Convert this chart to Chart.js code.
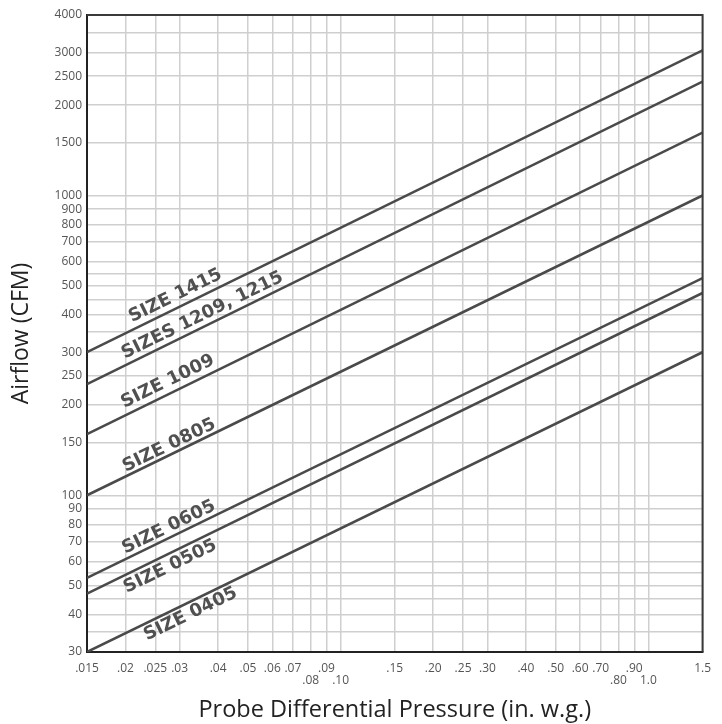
<!DOCTYPE html>
<html>
<head>
<meta charset="utf-8">
<script src="https://cdn.jsdelivr.net/npm/chart.js@4.4.1/dist/chart.umd.min.js"></script>
<style>
  html, body { margin: 0; padding: 0; background: #fff; }
  canvas { display: block; }
</style>
</head>
<body>
<canvas id="airflow-chart" width="722" height="724"></canvas>
<script>
// probe pressure range (in. w.g.) - every size is a straight line on the log/log grid
const pressureRange = [0.015, 1.5];

const sizeNames = ['SIZE 1415', 'SIZES 1209, 1215', 'SIZE 1009', 'SIZE 0805', 'SIZE 0605', 'SIZE 0505', 'SIZE 0405'];
const flowAtLowPressure = [300, 235, 160, 100, 53, 47, 30];
const flowAtHighPressure = [3050, 2400, 1620, 1000, 530, 473, 300];

const pressureTicks = [0.015, 0.02, 0.025, 0.03, 0.04, 0.05, 0.06, 0.07, 0.08, 0.09, 0.10, 0.15, 0.20, 0.25, 0.30, 0.40, 0.50, 0.60, 0.70, 0.80, 0.90, 1.0, 1.5];
const pressureTickLabels = ['.015', '.02', '.025', '.03', '.04', '.05', '.06', '.07', '.08', '.09', '.10', '.15', '.20', '.25', '.30', '.40', '.50', '.60', '.70', '.80', '.90', '1.0', '1.5'];
const loweredPressureLabels = ['.08', '.10', '.80', '1.0'];

const airflowTicks = [30, 35, 40, 45, 50, 55, 60, 70, 80, 90, 100, 150, 200, 250, 300, 350, 400, 450, 500, 550, 600, 700, 800, 900, 1000, 1500, 2000, 2500, 3000, 3500, 4000];
const airflowTickLabels = ['30', '', '40', '', '50', '', '60', '70', '80', '90', '100', '150', '200', '250', '300', '', '400', '', '500', '', '600', '700', '800', '900', '1000', '1500', '2000', '2500', '3000', '', '4000'];

// where each size label starts along its line (pressure value) and how far off the line
// its baseline sits (negative = above the line, positive = below it)
const labelStart = [0.0215, 0.0203, 0.0203, 0.0203, 0.0203, 0.0191, 0.0223];
const labelShift = [-7, -6, -7, -4, -5, 17, 16];

const lineColor = '#4a4a4a';
const gridColor = '#cfcfcf';

const datasets = sizeNames.map((name, i) => ({
  label: name,
  data: [
    { x: pressureRange[0], y: flowAtLowPressure[i] },
    { x: pressureRange[1], y: flowAtHighPressure[i] }
  ],
  borderColor: lineColor,
  borderWidth: 2.5,
  pointRadius: 0,
  tension: 0
}));

const sizeLabelPlugin = {
  id: 'sizeLabels',
  afterDatasetsDraw(chart) {
    const ctx = chart.ctx;
    const xScale = chart.scales.x;
    ctx.save();
    ctx.font = 'bold 18px "DejaVu Sans", sans-serif';
    ctx.fillStyle = '#505050';
    ctx.textAlign = 'left';
    ctx.textBaseline = 'alphabetic';
    chart.data.datasets.forEach((ds, i) => {
      const pts = chart.getDatasetMeta(i).data;
      const p0 = pts[0], p1 = pts[1];
      const angle = Math.atan2(p1.y - p0.y, p1.x - p0.x);
      const px = xScale.getPixelForValue(labelStart[i]);
      const py = p0.y + (px - p0.x) * (p1.y - p0.y) / (p1.x - p0.x);
      ctx.save();
      ctx.translate(px, py);
      ctx.rotate(angle);
      ctx.fillText(ds.label, 0, labelShift[i]);
      ctx.restore();
    });
    ctx.restore();
  }
};

const framePlugin = {
  id: 'frame',
  afterDraw(chart) {
    const { ctx, chartArea: a } = chart;
    ctx.save();
    ctx.strokeStyle = '#3a3a3a';
    ctx.lineWidth = 2;
    ctx.beginPath();
    ctx.moveTo(a.left, a.top);
    ctx.lineTo(a.right, a.top);
    ctx.lineTo(a.right, a.bottom);
    ctx.stroke();
    ctx.restore();
  }
};

const tickFont = { family: '"Open Sans", sans-serif', size: 12, lineHeight: 1.0 };

new Chart(document.getElementById('airflow-chart'), {
  type: 'line',
  data: { datasets },
  plugins: [sizeLabelPlugin, framePlugin],
  options: {
    responsive: false,
    animation: false,
    devicePixelRatio: 1,
    layout: { padding: { left: 0, top: 15, right: 9, bottom: 0 } },
    plugins: { legend: { display: false }, tooltip: { enabled: false } },
    scales: {
      x: {
        type: 'logarithmic',
        min: pressureRange[0],
        max: pressureRange[1],
        afterBuildTicks: scale => { scale.ticks = pressureTicks.map(v => ({ value: v })); },
        afterFit: scale => { scale.height = 72; },
        grid: { color: gridColor, lineWidth: 1.5, drawTicks: false },
        border: { color: '#222', width: 2 },
        ticks: {
          autoSkip: false,
          maxRotation: 0,
          minRotation: 0,
          padding: 11,
          color: '#555',
          font: tickFont,
          callback: (v, i) => {
            const t = pressureTickLabels[i];
            return loweredPressureLabels.includes(t) ? ['', t] : t;
          }
        },
        title: {
          display: true,
          text: 'Probe Differential Pressure (in. w.g.)',
          color: '#222',
          font: { family: '"Open Sans", sans-serif', size: 23.5 },
          padding: { top: 0, bottom: 0 }
        }
      },
      y: {
        type: 'logarithmic',
        min: 30,
        max: 4000,
        afterBuildTicks: scale => { scale.ticks = airflowTicks.map(v => ({ value: v })); },
        afterFit: scale => { scale.width = 87; },
        grid: { color: gridColor, lineWidth: 1.5, drawTicks: false },
        border: { color: '#222', width: 2 },
        ticks: {
          autoSkip: false,
          padding: 5,
          color: '#555',
          font: tickFont,
          callback: (v, i) => airflowTickLabels[i]
        },
        title: {
          display: true,
          text: 'Airflow (CFM)',
          color: '#222',
          font: { family: '"Open Sans", sans-serif', size: 23 },
          padding: { top: 8, bottom: 0 }
        }
      }
    }
  }
});
</script>
</body>
</html>
